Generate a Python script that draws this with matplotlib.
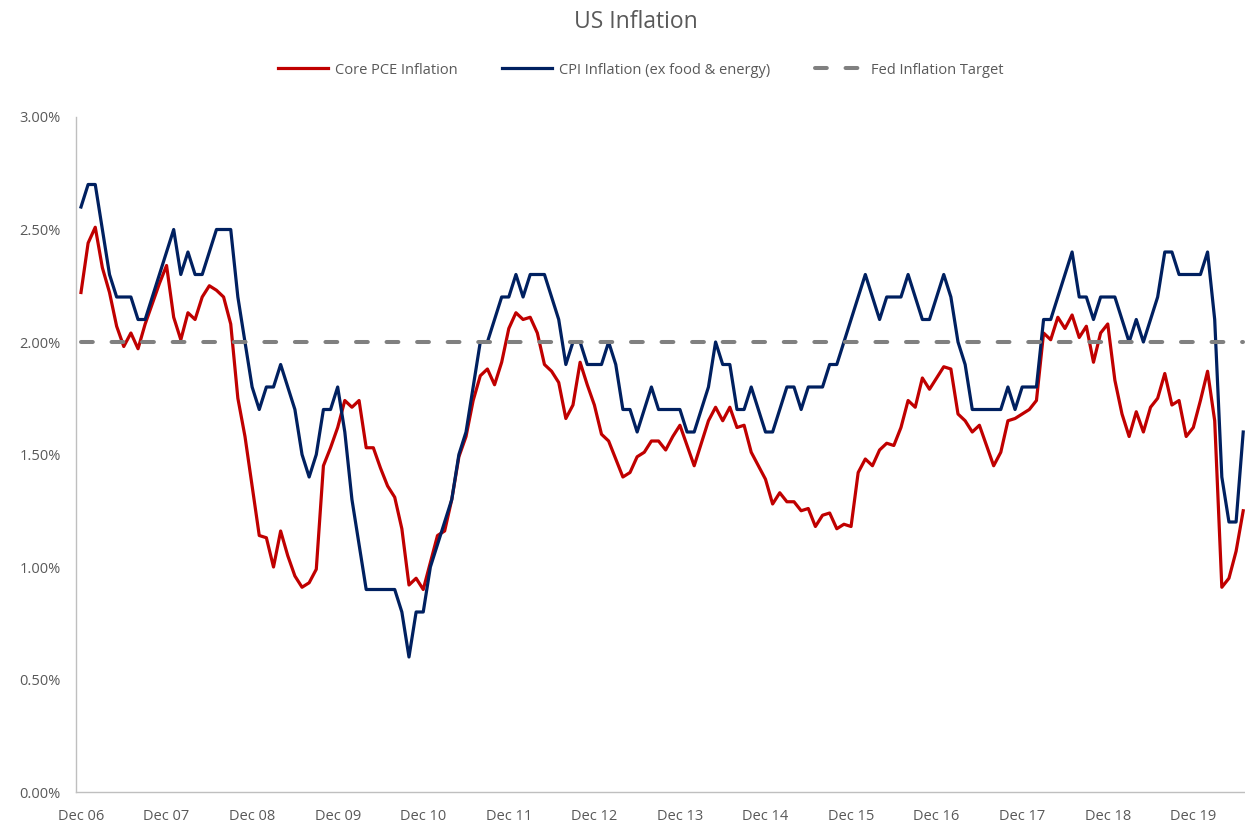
import numpy as np
import matplotlib
matplotlib.use('Agg')
import matplotlib.pyplot as plt
from matplotlib.ticker import FuncFormatter

plt.rcParams['font.family'] = ['Open Sans', 'DejaVu Sans']
plt.rcParams['lines.scale_dashes'] = False

# monthly data, Dec 2006 - Jul 2020 (year-on-year %)
core_pce = [2.22,
    2.44, 2.51, 2.33, 2.22, 2.07, 1.98, 2.04, 1.97, 2.08, 2.17, 2.26, 2.34,  # 2007
    2.11, 2.01, 2.13, 2.10, 2.20, 2.25, 2.23, 2.20, 2.08, 1.75, 1.58, 1.36,  # 2008
    1.14, 1.13, 1.00, 1.16, 1.05, 0.96, 0.91, 0.93, 0.99, 1.45, 1.53, 1.62,  # 2009
    1.74, 1.71, 1.74, 1.53, 1.53, 1.44, 1.36, 1.31, 1.17, 0.92, 0.95, 0.90,  # 2010
    1.02, 1.14, 1.16, 1.30, 1.49, 1.58, 1.74, 1.85, 1.88, 1.81, 1.91, 2.06,  # 2011
    2.13, 2.10, 2.11, 2.04, 1.90, 1.87, 1.82, 1.66, 1.72, 1.91, 1.81, 1.72,  # 2012
    1.59, 1.56, 1.48, 1.40, 1.42, 1.49, 1.51, 1.56, 1.56, 1.52, 1.58, 1.63,  # 2013
    1.54, 1.45, 1.55, 1.65, 1.71, 1.65, 1.71, 1.62, 1.63, 1.51, 1.45, 1.39,  # 2014
    1.28, 1.33, 1.29, 1.29, 1.25, 1.26, 1.18, 1.23, 1.24, 1.17, 1.19, 1.18,  # 2015
    1.42, 1.48, 1.45, 1.52, 1.55, 1.54, 1.62, 1.74, 1.71, 1.84, 1.79, 1.84,  # 2016
    1.89, 1.88, 1.68, 1.65, 1.60, 1.63, 1.54, 1.45, 1.51, 1.65, 1.66, 1.68,  # 2017
    1.70, 1.74, 2.04, 2.01, 2.11, 2.06, 2.12, 2.02, 2.07, 1.91, 2.04, 2.08,  # 2018
    1.83, 1.68, 1.58, 1.69, 1.60, 1.71, 1.75, 1.86, 1.72, 1.74, 1.58, 1.62,  # 2019
    1.74, 1.87, 1.65, 0.91, 0.95, 1.07, 1.25]                                # 2020

cpi_core = [2.6,
    2.7, 2.7, 2.5, 2.3, 2.2, 2.2, 2.2, 2.1, 2.1, 2.2, 2.3, 2.4,  # 2007
    2.5, 2.3, 2.4, 2.3, 2.3, 2.4, 2.5, 2.5, 2.5, 2.2, 2.0, 1.8,  # 2008
    1.7, 1.8, 1.8, 1.9, 1.8, 1.7, 1.5, 1.4, 1.5, 1.7, 1.7, 1.8,  # 2009
    1.6, 1.3, 1.1, 0.9, 0.9, 0.9, 0.9, 0.9, 0.8, 0.6, 0.8, 0.8,  # 2010
    1.0, 1.1, 1.2, 1.3, 1.5, 1.6, 1.8, 2.0, 2.0, 2.1, 2.2, 2.2,  # 2011
    2.3, 2.2, 2.3, 2.3, 2.3, 2.2, 2.1, 1.9, 2.0, 2.0, 1.9, 1.9,  # 2012
    1.9, 2.0, 1.9, 1.7, 1.7, 1.6, 1.7, 1.8, 1.7, 1.7, 1.7, 1.7,  # 2013
    1.6, 1.6, 1.7, 1.8, 2.0, 1.9, 1.9, 1.7, 1.7, 1.8, 1.7, 1.6,  # 2014
    1.6, 1.7, 1.8, 1.8, 1.7, 1.8, 1.8, 1.8, 1.9, 1.9, 2.0, 2.1,  # 2015
    2.2, 2.3, 2.2, 2.1, 2.2, 2.2, 2.2, 2.3, 2.2, 2.1, 2.1, 2.2,  # 2016
    2.3, 2.2, 2.0, 1.9, 1.7, 1.7, 1.7, 1.7, 1.7, 1.8, 1.7, 1.8,  # 2017
    1.8, 1.8, 2.1, 2.1, 2.2, 2.3, 2.4, 2.2, 2.2, 2.1, 2.2, 2.2,  # 2018
    2.2, 2.1, 2.0, 2.1, 2.0, 2.1, 2.2, 2.4, 2.4, 2.3, 2.3, 2.3,  # 2019
    2.3, 2.4, 2.1, 1.4, 1.2, 1.2, 1.6]                           # 2020

fed_target = 2.0
tick_labels = ['Dec %02d' % y for y in range(6, 20)]

n = len(core_pce)
x = np.arange(n)

fig = plt.figure(figsize=(12.45, 8.3), dpi=100)
ax = fig.add_axes([76 / 1245, 1 - 792 / 830, 1 - 76 / 1245, (792 - 117) / 830])

ax.plot(x, core_pce, color='#C00000', lw=2.3, label='Core PCE Inflation', solid_joinstyle='round')
ax.plot(x, cpi_core, color='#002060', lw=2.3, label='CPI Inflation (ex food & energy)', solid_joinstyle='round')
ax.plot(x, np.full(n, fed_target), color='#808080', lw=2.9, dashes=(8.5, 13.5),
        dash_capstyle='round', label='Fed Inflation Target')

ax.set_xlim(-0.7, n - 0.75)
ax.set_ylim(0, 3.0)
ax.set_yticks(np.arange(0, 3.01, 0.5))
ax.yaxis.set_major_formatter(FuncFormatter(lambda v, p: '%.2f%%' % v))
ax.set_xticks(np.arange(0, n, 12))
ax.set_xticklabels(tick_labels)

for s in ['top', 'right']:
    ax.spines[s].set_visible(False)
for s in ['left', 'bottom']:
    ax.spines[s].set_color('#BFBFBF')
    ax.spines[s].set_linewidth(1.0)
ax.tick_params(axis='both', length=0, labelsize=10.5, labelcolor='#595959')
ax.tick_params(axis='y', pad=11)
ax.tick_params(axis='x', pad=12)

fig.text(0.511, 1 - 22 / 830, 'US Inflation', ha='center', va='center', fontsize=16.5, color='#595959')
fig.legend(loc='center', bbox_to_anchor=(641 / 1245, 1 - 70 / 830), ncol=3, frameon=False,
           fontsize=10.5, labelcolor='#595959', handlelength=3.4, handletextpad=0.45, columnspacing=3.1)

fig.savefig('out.png', dpi=100)
